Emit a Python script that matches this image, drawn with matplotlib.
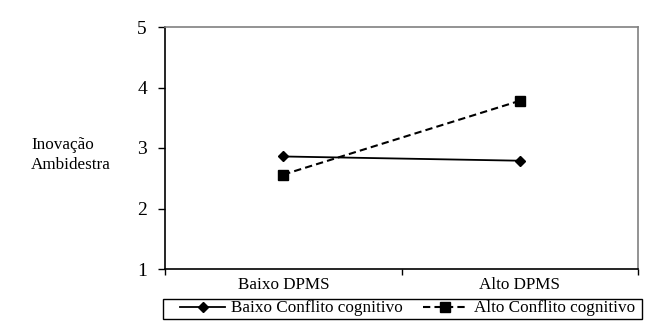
import matplotlib.pyplot as plt
from matplotlib.patches import Rectangle

plt.rcParams['font.family'] = ['Liberation Serif', 'DejaVu Serif']

categories = ['Baixo DPMS', 'Alto DPMS']
baixo_conflito = [2.86, 2.79]
alto_conflito = [2.56, 3.78]
yticks = [1, 2, 3, 4, 5]

W, H = 650, 324
fig = plt.figure(figsize=(6.5, 3.24), dpi=100)
ax = fig.add_axes([165 / W, 1 - 269 / H, (638 - 165) / W, (269 - 27) / H])

x = [0, 1]
ax.plot(x, baixo_conflito, color='black', lw=1.3, marker='D', markersize=5.5,
        label='Baixo Conflito cognitivo')
ax.plot(x, alto_conflito, color='black', lw=1.5, ls=(0, (3.5, 2)), marker='s',
        markersize=7, label='Alto Conflito cognitivo')

ax.set_xlim(-0.5, 1.5)
ax.set_ylim(1, 5)
ax.set_yticks(yticks)
ax.set_yticklabels([str(v) for v in yticks], fontsize=14)
ax.set_xticks([-0.5, 0.5, 1.5])
ax.set_xticklabels([])
ax.set_xticks(x, minor=True)
ax.set_xticklabels(categories, minor=True, fontsize=12.3)
ax.tick_params(axis='x', which='minor', length=0, pad=6)
ax.tick_params(axis='x', which='major', length=4, width=1, direction='out')
ax.tick_params(axis='y', length=5, width=1, direction='out', pad=8)

ax.spines['left'].set_color('black')
ax.spines['bottom'].set_color('black')
ax.spines['top'].set_color('#808080')
ax.spines['right'].set_color('#808080')
for s in ax.spines.values():
    s.set_linewidth(1.2)

fig.text(31 / W, 1 - 155 / H, 'Inovação\nAmbidestra', fontsize=12.3,
         ha='left', va='center', linespacing=1.3)

# legend box drawn separately so the padding matches
fig.patches.append(Rectangle((163 / W, 1 - 318.5 / H), (642 - 163) / W, 19.5 / H,
                             transform=fig.transFigure, fill=False,
                             edgecolor='black', lw=1.0))
leg = fig.legend(loc='center left', bbox_to_anchor=(180 / W, 1 - 308.5 / H),
                 ncol=2, frameon=False, fontsize=12.3, handlelength=2.65,
                 columnspacing=1.15, handletextpad=0.35, borderpad=0,
                 borderaxespad=0)

fig.savefig('out.png', dpi=100)
